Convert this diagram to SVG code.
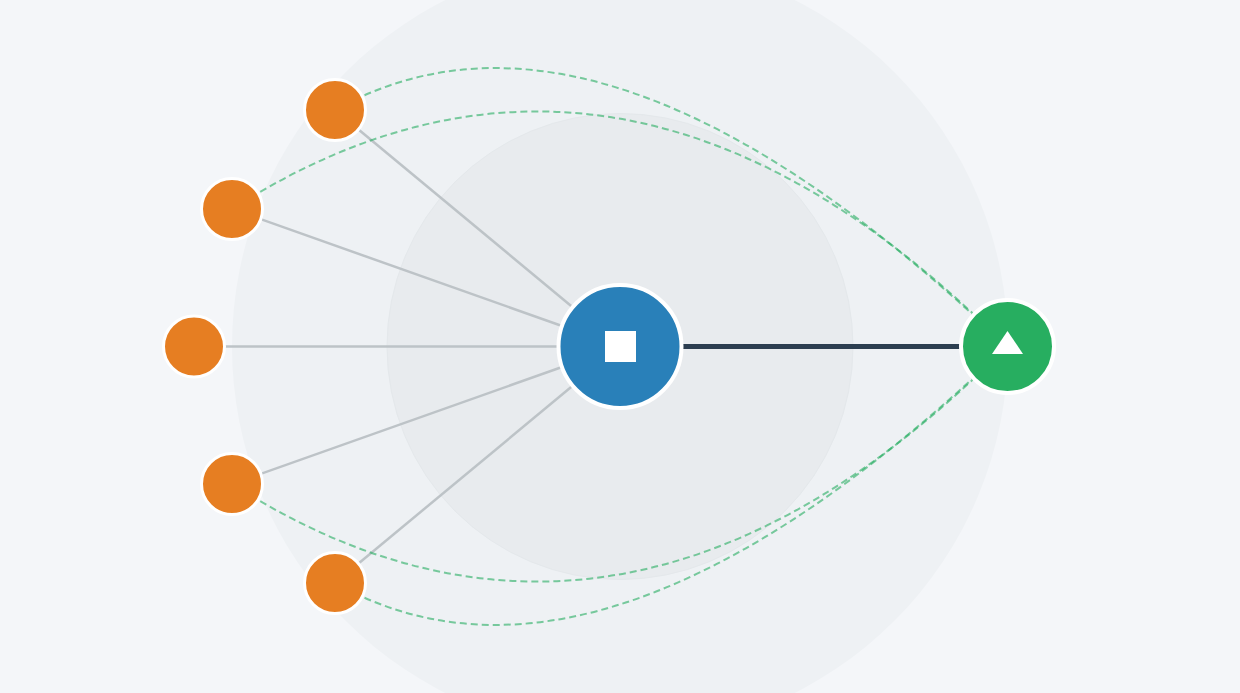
<svg xmlns="http://www.w3.org/2000/svg" width="1240" height="693" viewBox="0 0 1240 693">
  <style>
    .spoke { stroke: #bdc3c7; stroke-width: 2.5; fill: none; }
    .arc { stroke: #27ae60; stroke-opacity: 0.6; stroke-width: 2; stroke-dasharray: 7 4; fill: none; }
    .leaf { fill: #e67e22; stroke: #ffffff; stroke-width: 3; }
  </style>
  <rect x="0" y="0" width="1240" height="693" fill="#f4f6f9"/>
  <g id="backdrop">
    <circle cx="620" cy="346.5" r="388" fill="#eef1f4"/>
    <circle cx="620" cy="346.5" r="233" fill="#e8ebee" stroke="#e4e8eb" stroke-width="1"/>
  </g>
  <g id="connectors">
    <line class="spoke" x1="335" y1="110" x2="620" y2="346.5"/>
    <line class="spoke" x1="232" y1="209" x2="620" y2="346.5"/>
    <line class="spoke" x1="194" y1="346.5" x2="620" y2="346.5"/>
    <line class="spoke" x1="232" y1="484" x2="620" y2="346.5"/>
    <line class="spoke" x1="335" y1="583" x2="620" y2="346.5"/>
    <line x1="620" y1="346.5" x2="1007" y2="346.5" stroke="#2c3e50" stroke-width="5"/>
    <path class="arc" d="M335,110 Q602,-40 1007,346.5"/>
    <path class="arc" d="M232,209 Q622,-40 1007,346.5"/>
    <path class="arc" d="M232,484 Q622,733 1007,346.5"/>
    <path class="arc" d="M335,583 Q602,733 1007,346.5"/>
  </g>
  <g id="leaf1"><circle class="leaf" cx="335" cy="110" r="30.5"/></g>
  <g id="leaf2"><circle class="leaf" cx="232" cy="209" r="30.5"/></g>
  <g id="leaf3"><circle class="leaf" cx="194" cy="346.5" r="30.5"/></g>
  <g id="leaf4"><circle class="leaf" cx="232" cy="484" r="30.5"/></g>
  <g id="leaf5"><circle class="leaf" cx="335" cy="583" r="30.5"/></g>
  <g id="hub">
    <circle cx="620" cy="346.5" r="61.5" fill="#2980b9" stroke="#ffffff" stroke-width="4"/>
    <rect x="605" y="331" width="31" height="31" fill="#ffffff"/>
  </g>
  <g id="target">
    <circle cx="1007.5" cy="346.5" r="46.5" fill="#27ae60" stroke="#ffffff" stroke-width="4"/>
    <polygon points="1007.5,331 992,354 1023,354" fill="#ffffff"/>
  </g>
</svg>
